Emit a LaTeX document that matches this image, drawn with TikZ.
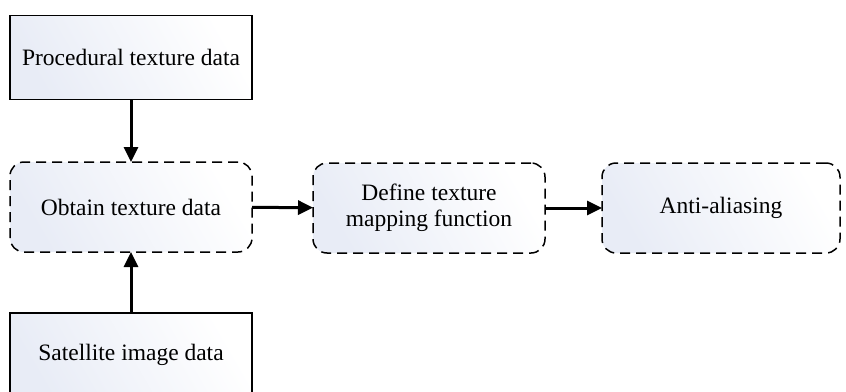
\documentclass[tikz,border=0pt]{standalone}
\usepackage{fontspec}
\setmainfont{Liberation Serif}
\usetikzlibrary{arrows.meta}
\definecolor{boxtint}{RGB}{232,236,246}
\tikzset{
  boxbase/.style={minimum width=242pt, inner sep=0pt, outer sep=0pt,
    line width=1.5pt, draw=black, align=center,
    left color=boxtint, right color=white, shading angle=120,
    font=\fontsize{23.5}{26}\selectfont},
  databox/.style={boxbase, minimum height=84pt},
  stepbox/.style={boxbase, rounded corners=14pt, minimum height=90pt,
    dash pattern=on 10pt off 6pt},
  flow/.style={line width=3pt, -{Triangle[length=15pt,width=14pt]}}
}
\begin{document}
\begin{tikzpicture}[x=1pt,y=-1pt]
  \useasboundingbox (0,0) rectangle (846,391);
  \node[databox] (proc) at (131,57.5) {Procedural texture data};
  \node[stepbox] (obtain) at (131,207) {Obtain texture data};
  \node[stepbox, minimum width=232pt] (define) at (429,208) {Define texture\\mapping function};
  \node[stepbox, minimum width=238pt] (anti) at (721,208) {Anti-aliasing};
  \node[databox] (sat) at (131,355) {Satellite image data};
  \draw[flow] (proc) -- (obtain);
  \draw[flow] (sat) -- (obtain);
  \draw[flow] (obtain) -- (define);
  \draw[flow] (define) -- (anti);
\end{tikzpicture}
\end{document}
